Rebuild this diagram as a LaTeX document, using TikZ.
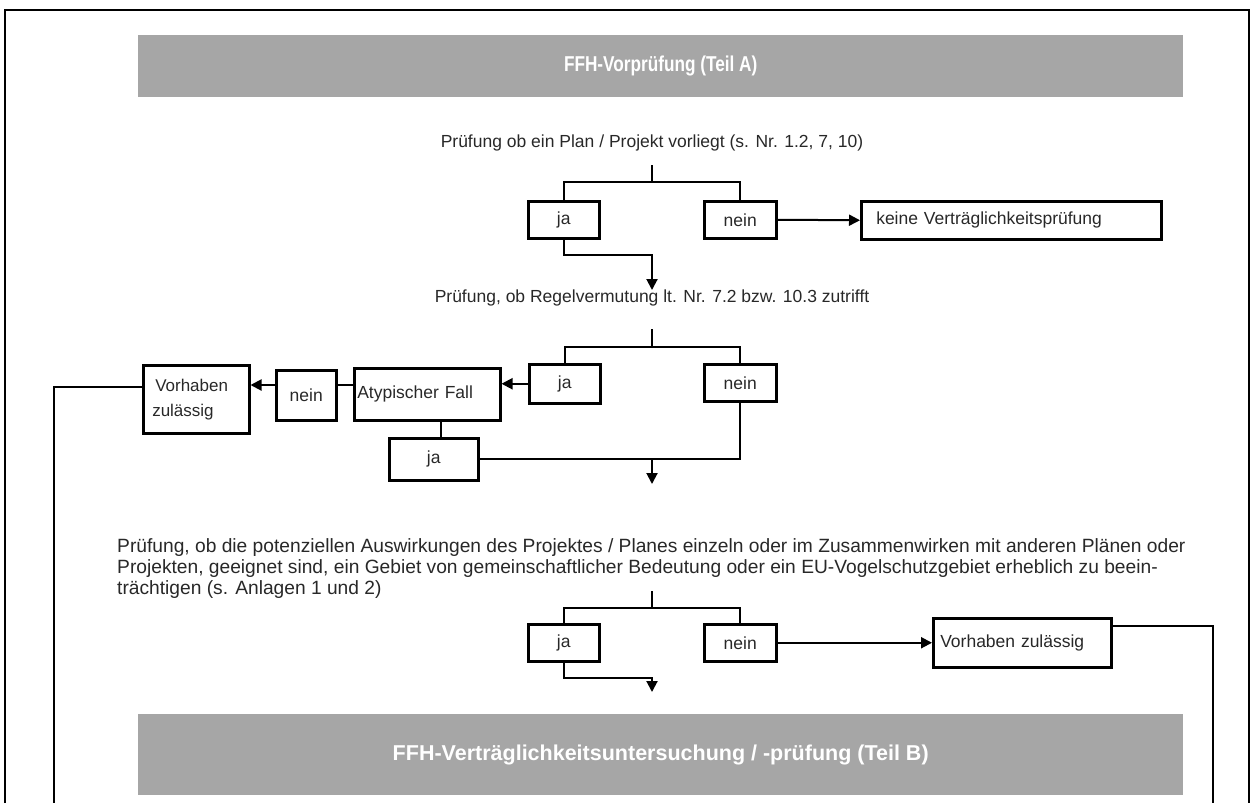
\documentclass[tikz,border=0pt]{standalone}
\usepackage{fontspec}
\setmainfont{Liberation Sans}
\usetikzlibrary{arrows.meta,calc}
\definecolor{bargray}{RGB}{166,166,166}
\definecolor{txt}{RGB}{40,40,40}
\tikzset{
  box/.style={draw=black, line width=2.5pt, inner sep=0pt, anchor=north west, font=\fontsize{17.5}{21}\selectfont, text=txt},
  conn/.style={line width=2pt, draw=black},
  arr/.style={conn, -{Triangle[length=11pt,width=11pt]}},
  bar/.style={fill=bargray, draw=none, anchor=north west, text=white, font=\bfseries\fontsize{21.5}{24}\selectfont},
  qtext/.style={text=txt, font=\fontsize{17.5}{21}\selectfont, inner sep=0pt}
}
\begin{document}
\begin{tikzpicture}[x=1pt,y=-1pt]
\useasboundingbox (0,0) rectangle (1252,803);
% frame
\draw[line width=2.5pt] (5,803) -- (5,10) -- (1249,10) -- (1249,803);
% title A
\node[bar, minimum width=1045pt, minimum height=62pt] (barA) at (138,35) {\scalebox{0.8}[1]{FFH-Vorprüfung (Teil A)}};
% section 1
\node[qtext] (q1) at (652,143) {Prüfung ob ein Plan / Projekt vorliegt (s. Nr. 1.2, 7, 10)};
\coordinate (t1top) at (652,165);
\coordinate (t1) at (652,182);
\node[box, minimum width=71pt, minimum height=37pt] (ja1) at (527,200) {ja};
\node[box, minimum width=72pt, minimum height=37pt] (nein1) at (703,200) {nein};
\node[box, minimum width=300pt, minimum height=38pt, text width=270pt, align=left] (keine) at (860,200) {keine Verträglichkeitsprüfung};
\draw[conn] (t1top) -- (t1);
\draw[conn] (ja1.north) |- (t1) -| (nein1.north);
\draw[arr] (nein1.east) -- (keine.west);
\coordinate (a1) at (652,290);
\draw[arr] (ja1.south) |- (652,255) -- (a1);
% section 2
\node[qtext] (q2) at (652,298) {Prüfung, ob Regelvermutung lt. Nr. 7.2 bzw. 10.3 zutrifft};
\coordinate (t2top) at (652,329);
\coordinate (t2) at (652,347);
\node[box, minimum width=71pt, minimum height=39pt] (ja2) at (528,363) {ja};
\node[box, minimum width=72pt, minimum height=37pt] (nein2) at (703,363) {nein};
\node[box, minimum width=146pt, minimum height=52pt, text width=140pt, align=left] (atyp) at (353,367) {Atypischer Fall};
\node[box, minimum width=60pt, minimum height=50pt] (nein3) at (275,369) {nein};
\node[box, minimum width=106pt, minimum height=68pt, text width=88pt, align=left, font=\fontsize{17}{25}\selectfont] (vh1) at (142,364) {\hspace*{3pt}Vorhaben\\zulässig};
\node[box, minimum width=89pt, minimum height=42pt] (ja3) at (388,437) {ja};
\draw[conn] (t2top) -- (t2);
\draw[conn] (ja2.north) |- (t2) -| (nein2.north);
\draw[arr] (ja2.west) -- (ja2.west -| atyp.east);
\draw[conn] (nein3.east |- 0,385) -- (atyp.west |- 0,385);
\draw[arr] (nein3.west |- 0,385) -- (vh1.east |- 0,385);
\draw[conn] (441,419) coordinate (atb) -- (ja3.north -| atb);
\coordinate (j2) at (652,456);
\draw[conn] (nein2.south) |- (ja3.east);
\coordinate (a2) at (652,484);
\draw[arr] (ja3.east -| j2) -- (a2);
\coordinate (leftbot) at (54,803);
\draw[conn] (vh1.west |- 0,387) -| (leftbot);
% section 3
\node[qtext, anchor=north west, align=left, font=\fontsize{19.2}{21}\selectfont] (q3) at (117,538) {Prüfung, ob die potenziellen Auswirkungen des Projektes / Planes einzeln oder im Zusammenwirken mit anderen Plänen oder\\Projekten, geeignet sind, ein Gebiet von gemeinschaftlicher Bedeutung oder ein EU-Vogelschutzgebiet erheblich zu beein-\\trächtigen (s. Anlagen 1 und 2)};
\coordinate (t3top) at (652,591);
\coordinate (t3) at (652,608);
\node[box, minimum width=71pt, minimum height=37pt] (ja4) at (527,623) {ja};
\node[box, minimum width=72pt, minimum height=37pt] (nein4) at (703,623) {nein};
\node[box, minimum width=178pt, minimum height=49pt, text width=164pt, align=left] (vh2) at (932,617) {Vorhaben zulässig};
\draw[conn] (t3top) -- (t3);
\draw[conn] (ja4.north) |- (t3) -| (nein4.north);
\draw[arr] (nein4.east) -- (nein4.east -| vh2.west);
\coordinate (a3) at (652,692);
\draw[arr] (ja4.south) |- (652,678) -- (a3);
\coordinate (rightbot) at (1213,803);
\draw[conn] (vh2.east |- 0,626) -| (rightbot);
% title B
\node[bar, minimum width=1045pt, minimum height=81pt] (barB) at (138,714) {FFH-Verträglichkeitsuntersuchung / -prüfung (Teil B)};
\end{tikzpicture}
\end{document}
